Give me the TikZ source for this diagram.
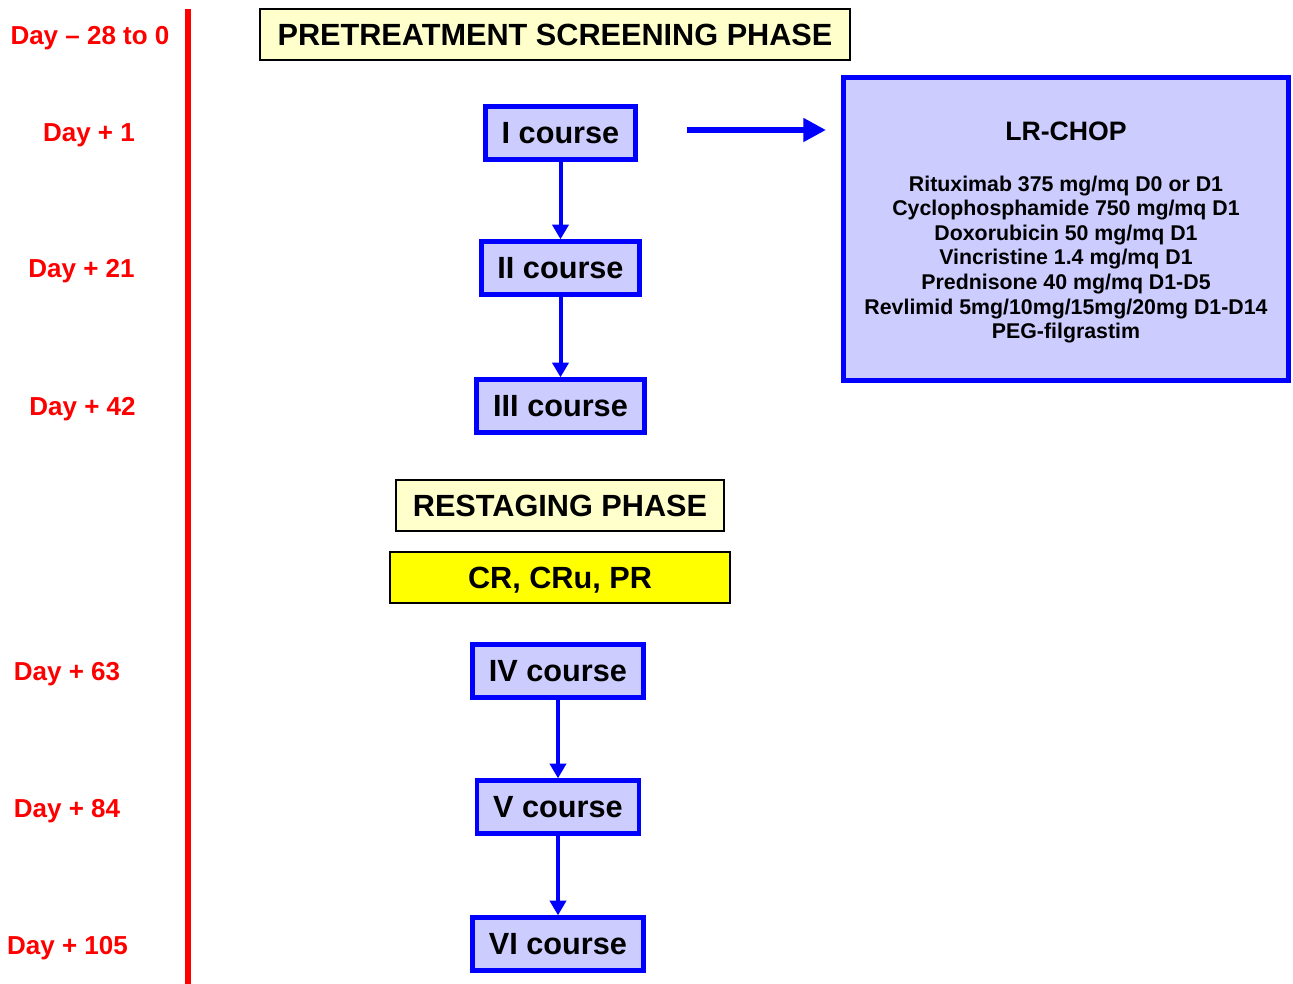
\documentclass[tikz,border=0pt]{standalone}
\usepackage{fontspec}
\setmainfont{Liberation Sans}
\usetikzlibrary{arrows.meta}
\definecolor{boxblue}{HTML}{0000FF}
\definecolor{boxfill}{HTML}{CCCCFF}
\definecolor{phasefill}{HTML}{FFFFCC}
\definecolor{respfill}{HTML}{FFFF00}
\definecolor{dayred}{HTML}{FF0000}
\begin{document}
\begin{tikzpicture}[x=0.75pt,y=-0.75pt,
  daylabel/.style={text=dayred, font=\fontsize{19.5}{23}\selectfont\bfseries, text depth=0pt, inner sep=0pt},
  coursebox/.style={draw=boxblue, fill=boxfill, line width=3.25pt, font=\fontsize{23}{27}\selectfont\bfseries, text depth=0pt, minimum height=39.75pt, inner sep=0pt},
  phasebox/.style={draw=black, line width=1.5pt, font=\fontsize{23}{27}\selectfont\bfseries, text depth=0pt, minimum height=38.25pt, inner sep=0pt},
  flowarrow/.style={draw=boxblue, line width=3pt, -{Triangle[length=11pt,width=12pt]}},
  redline/.style={draw=dayred, line width=4.5pt}
]
\useasboundingbox (0,0) rectangle (1293,984);

% timeline
\coordinate (rtop) at (187.5,9);
\coordinate (rbot) at (187.5,984);
\draw[redline] (rtop) -- (rbot);

\node[daylabel] (d0) at (90,35) {Day -- 28 to 0};
\node[daylabel] (d1) at (89,133) {Day + 1};
\node[daylabel] (d21) at (81.5,268) {Day + 21};
\node[daylabel] (d42) at (82.5,406) {Day + 42};
\node[daylabel] (d63) at (67,671) {Day + 63};
\node[daylabel] (d84) at (67,808) {Day + 84};
\node[daylabel] (d105) at (67.5,945) {Day + 105};

% phases
\node[phasebox, fill=phasefill, minimum width=442.5pt] (pre) at (555,34.5) {PRETREATMENT SCREENING PHASE};
\node[phasebox, fill=phasefill, minimum width=246pt] (rest) at (560,505.5) {RESTAGING PHASE};
\node[phasebox, fill=respfill, minimum width=255pt] (resp) at (560,577.5) {CR, CRu, PR};

% courses
\node[coursebox, minimum width=112.5pt] (c1) at (560.5,133) {I course};
\node[coursebox, minimum width=118.5pt] (c2) at (560.5,268) {II course};
\node[coursebox, minimum width=126pt] (c3) at (560.5,406) {III course};
\node[coursebox, minimum width=128.25pt] (c4) at (558,671) {IV course};
\node[coursebox, minimum width=121.5pt] (c5) at (558,807) {V course};
\node[coursebox, minimum width=128.25pt] (c6) at (558,944) {VI course};

\draw[flowarrow] (c1.south) -- (c2.north);
\draw[flowarrow] (c2.south) -- (c3.north);
\draw[flowarrow] (c4.south) -- (c5.north);
\draw[flowarrow] (c5.south) -- (c6.north);

% LR-CHOP box
\node[draw=boxblue, fill=boxfill, line width=3.75pt, minimum width=333.75pt, minimum height=227.25pt, inner sep=0pt] (lr) at (1066,229) {};
\node[font=\fontsize{20}{24}\selectfont\bfseries, text depth=0pt, inner sep=0pt] (lrtitle) at (1066,131) {LR-CHOP};
\node[font=\fontsize{16}{18.4}\selectfont\bfseries, align=center, inner sep=0pt] (drugs) at (1066,259.5) {Rituximab 375 mg/mq D0 or D1\\
Cyclophosphamide 750 mg/mq D1\\
Doxorubicin 50 mg/mq D1\\
Vincristine 1.4 mg/mq D1\\
Prednisone 40 mg/mq D1-D5\\
Revlimid 5mg/10mg/15mg/20mg D1-D14\\
PEG-filgrastim};

\coordinate (ay) at (0,130);
\draw[draw=boxblue, line width=4.5pt, -{Triangle[length=17pt,width=17pt]}, shorten <=36.75pt, shorten >=11.25pt] (c1.east |- ay) -- (lr.west |- ay);
\end{tikzpicture}
\end{document}
